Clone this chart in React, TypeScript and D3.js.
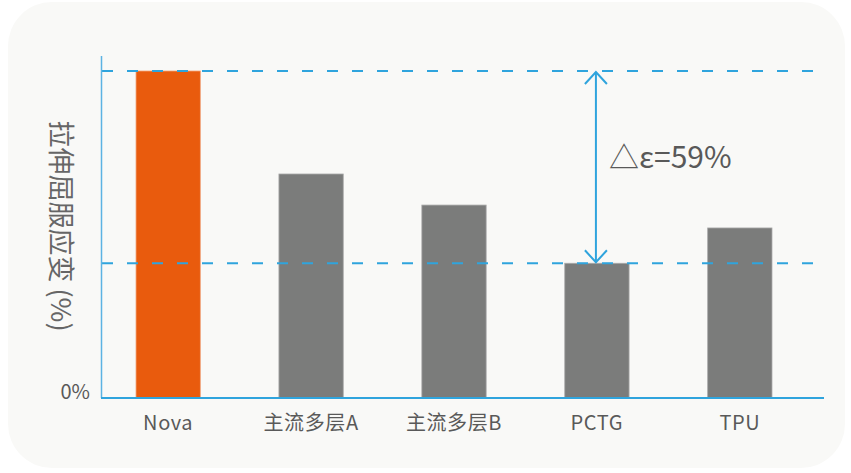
import React, { useEffect, useRef } from 'react';
import * as d3 from 'd3';

const categories = ['Nova', '主流多层A', '主流多层B', 'PCTG', 'TPU'];
const strainValues = [100, 68.5, 59, 41.2, 52];
const highlight = 'Nova';
const yTickLabels = ['0%'];
const deltaLabel = '△ε=59%';
const yTitle = '拉伸屈服应变 (%)';

const App: React.FC = () => {
  const svgRef = useRef<SVGSVGElement>(null);

  useEffect(() => {
    if (!svgRef.current) return;

    const width = 851;
    const height = 473;
    const font = '"Noto Sans CJK SC", "Noto Sans", sans-serif';
    const blue = '#2fa4dd';
    const textColor = '#595959';

    const svg = d3.select(svgRef.current);
    svg.selectAll('*').remove();
    svg.attr('width', width).attr('height', height).style('font-family', font);

    // card background
    svg.append('rect')
      .attr('x', 8).attr('y', 2)
      .attr('width', 837).attr('height', 466)
      .attr('rx', 44).attr('ry', 44)
      .attr('fill', '#f9f9f7');

    const x = d3.scaleBand<string>()
      .domain(categories)
      .range([102, 806])
      .paddingInner(0.55)
      .paddingOuter(0.238);

    const y = d3.scaleLinear().domain([0, 100]).range([398, 71]);

    const data = categories.map((c, i) => ({ name: c, value: strainValues[i] }));

    // bars
    svg.append('g')
      .selectAll('rect')
      .data(data)
      .join('rect')
      .attr('x', d => x(d.name)!)
      .attr('y', d => y(d.value))
      .attr('width', x.bandwidth())
      .attr('height', d => y(0) - y(d.value))
      .attr('fill', d => (d.name === highlight ? '#e95b0d' : '#7b7c7b'))
      .attr('stroke', d => (d.name === highlight ? '#f0a57c' : '#a9a9a9'))
      .attr('stroke-width', 0.8);

    // dashed reference lines at max and min
    const maxV = d3.max(strainValues)!;
    const minV = d3.min(strainValues)!;
    svg.append('g')
      .selectAll('line')
      .data([maxV, minV])
      .join('line')
      .attr('x1', 102).attr('x2', 814)
      .attr('y1', d => y(d)).attr('y2', d => y(d))
      .attr('stroke', blue)
      .attr('stroke-width', 2)
      .attr('stroke-dasharray', '11,14');

    // axes
    svg.append('line')
      .attr('x1', 101.5).attr('x2', 101.5)
      .attr('y1', 56).attr('y2', y(0))
      .attr('stroke', '#5cb3e3').attr('stroke-width', 1.5);
    svg.append('line')
      .attr('x1', 101).attr('x2', 824)
      .attr('y1', y(0)).attr('y2', y(0))
      .attr('stroke', blue).attr('stroke-width', 2);

    // x labels
    svg.append('g')
      .selectAll('text')
      .data(categories)
      .join('text')
      .attr('x', d => x(d)! + x.bandwidth() / 2)
      .attr('y', 430)
      .attr('text-anchor', 'middle')
      .attr('fill', textColor)
      .style('font-size', '20px')
      .style('letter-spacing', '0.6px')
      .text(d => d);

    // y tick label
    svg.append('text')
      .attr('x', 90).attr('y', y(0) + 1)
      .attr('text-anchor', 'end')
      .attr('fill', textColor)
      .style('font-size', '20px')
      .text(yTickLabels[0]);

    // y title (glyphs turned clockwise)
    svg.append('text')
      .attr('transform', 'translate(62,226) rotate(90)')
      .attr('text-anchor', 'middle')
      .attr('dominant-baseline', 'central')
      .attr('fill', '#666666')
      .style('font-size', '27px')
      .text(yTitle);

    // difference arrow
    const ax = x('PCTG')! + x.bandwidth() / 2 - 1;
    const yTop = y(maxV) + 1;
    const yBot = y(minV) - 1;
    const arrow = svg.append('g')
      .attr('stroke', blue).attr('stroke-width', 2).attr('fill', 'none');
    arrow.append('line')
      .attr('x1', ax).attr('x2', ax).attr('y1', yTop).attr('y2', yBot);
    arrow.append('path')
      .attr('d', `M${ax - 11},${yTop + 12} L${ax},${yTop} L${ax + 11},${yTop + 12}`);
    arrow.append('path')
      .attr('d', `M${ax - 11},${yBot - 12} L${ax},${yBot} L${ax + 11},${yBot - 12}`);

    svg.append('text')
      .attr('x', 609).attr('y', 168)
      .attr('fill', textColor)
      .style('font-size', '30px')
      .text(deltaLabel);
  }, []);

  return (
    <svg
      ref={svgRef}
      style={{ position: 'absolute', left: 0, top: 0, background: '#ffffff' }}
    />
  );
};

export default App;
